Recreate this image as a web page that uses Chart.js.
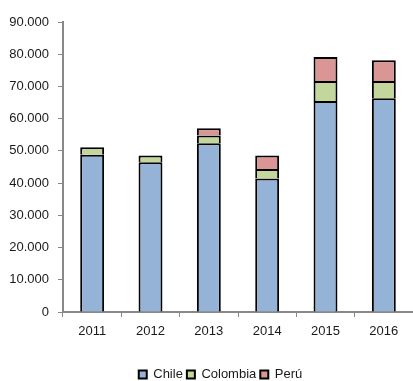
<!DOCTYPE html>
<html>
<head>
<meta charset="utf-8">
<script src="https://cdn.jsdelivr.net/npm/chart.js@4"></script>
<style>
  html, body { margin: 0; padding: 0; background: #fff; }
  #wrap { width: 413px; height: 381px; }
</style>
</head>
<body>
<div id="wrap"><canvas id="myChart" width="413" height="381"></canvas></div>
<script>
var years = ['2011', '2012', '2013', '2014', '2015', '2016'];
var chile = [48800, 46500, 52400, 41400, 65500, 66300];
var colombia = [2300, 2100, 2400, 3000, 6200, 5400];
var peru = [0, 0, 2200, 4200, 7400, 6400];
var yTicks = [0, 10000, 20000, 30000, 40000, 50000, 60000, 70000, 80000, 90000];

// miles con punto
function fmt(v) {
    return String(v).replace(/\B(?=(\d{3})+(?!\d))/g, '.');
}

Chart.defaults.font.family = "'Liberation Sans', Arial, sans-serif";
Chart.defaults.font.size = 13;
Chart.defaults.color = '#1a1a1a';

function serie(label, data, color) {
    return {
        label: label,
        data: data,
        backgroundColor: color,
        borderColor: '#000',
        borderWidth: 2,
        barPercentage: 0.41,
        categoryPercentage: 1
    };
}

// la leyenda va un poco corrida a la derecha
const shiftLegend = {
    id: 'shiftLegend',
    afterLayout: function (chart) {
        chart.legend.left += 14;
        chart.legend.right += 14;
    }
};

const ctx = document.getElementById('myChart').getContext('2d');
const myChart = new Chart(ctx, {
    type: 'bar',
    data: {
        labels: years,
        datasets: [
            serie('Chile', chile, '#95b3d7'),
            serie('Colombia', colombia, '#c3d69b'),
            serie('Perú', peru, '#d99694')
        ]
    },
    plugins: [shiftLegend],
    options: {
        responsive: false,
        animation: false,
        layout: { padding: { top: 22, left: 0, right: 0, bottom: -10 } },
        plugins: {
            tooltip: { enabled: false },
            legend: {
                position: 'bottom',
                labels: {
                    boxWidth: 8,
                    boxHeight: 8,
                    padding: 4
                }
            }
        },
        scales: {
            x: {
                stacked: true,
                grid: { display: true, drawOnChartArea: false, color: '#888', tickLength: 5 },
                border: { color: '#888', width: 2 },
                ticks: { padding: 7 },
                afterFit: function (scale) { scale.height = 52; }
            },
            y: {
                stacked: true,
                min: 0,
                max: 90000,
                afterBuildTicks: function (scale) {
                    scale.ticks = yTicks.map(function (v) { return { value: v }; });
                },
                grid: { display: true, drawOnChartArea: false, color: '#888', tickLength: 5 },
                border: { color: '#888', width: 2 },
                ticks: {
                    padding: 9,
                    callback: function (value) { return fmt(value); }
                },
                afterFit: function (scale) { scale.width = 63; }
            }
        }
    }
});
</script>
</body>
</html>
